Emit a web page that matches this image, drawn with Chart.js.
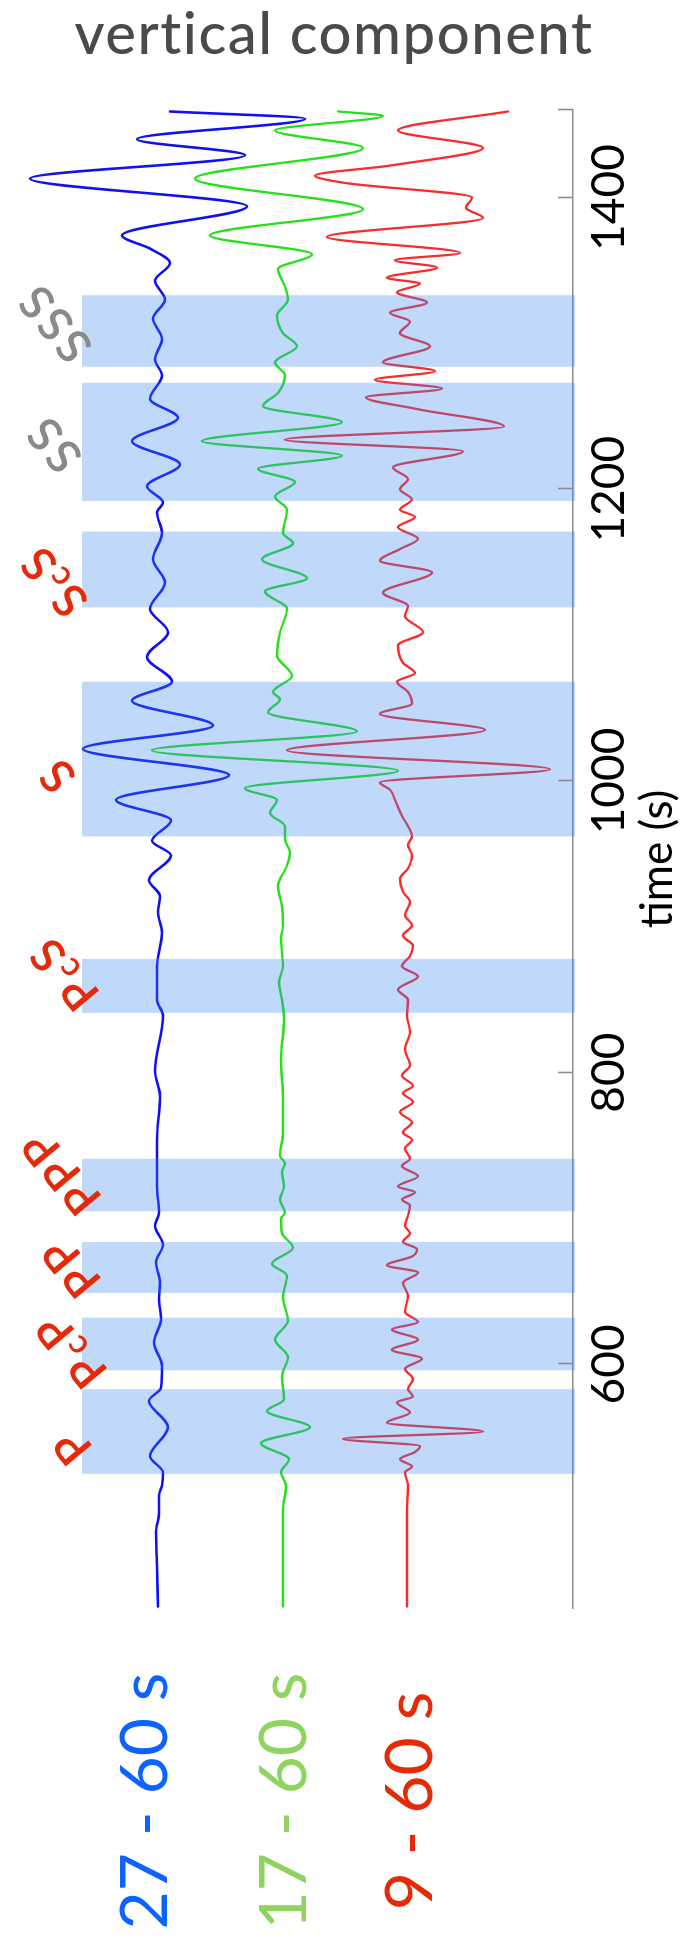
<!DOCTYPE html>
<html>
<head>
<meta charset="utf-8">
<script src="https://cdn.jsdelivr.net/npm/chart.js@4.4.1/dist/chart.umd.min.js"></script>
<style>
  html, body { margin: 0; padding: 0; background: #fff; }
  body { width: 682px; height: 1944px; position: relative; overflow: hidden; }
  #head { position: absolute; left: 0; top: 3px; width: 668px; text-align: center; }
  #ttl { font: 500 58px Lato, sans-serif; color: #4a4a4a; line-height: 1; white-space: nowrap; }
  /* the record section is laid out landscape and turned a quarter turn */
  #wrap { position: absolute; left: 0; top: 0; width: 1944px; height: 682px;
          transform-origin: 0 0; transform: translate(0, 1944px) rotate(-90deg); }
</style>
</head>
<body>
<div id="head"><span id="ttl">vertical component</span></div>
<div id="wrap"><canvas id="plot" width="1944" height="682"></canvas></div>
<script>
// ---- time axis ----
const TIME_MIN = 433;
const TIME_MAX = 1460;
const TICKS = [600, 800, 1000, 1200, 1400];
const AXIS_TITLE = 'time (s)';

// ---- filter bands ----
const BAND_NAMES = ['27 - 60 s', '17 - 60 s', '9 - 60 s'];

// ---- 27 - 60 s trace (time s, amplitude) ----
const blueTime = [434, 462, 485, 498, 510, 517, 526, 537, 557, 575, 584, 599, 615, 631, 645,
  656, 670, 682, 695, 704, 722, 754, 784, 801, 839, 850, 873, 896, 910, 921, 932, 949, 959,
  973, 987, 1004, 1022, 1038, 1055, 1068, 1085, 1102, 1118, 1136, 1152, 1170, 1184, 1191,
  1202, 1217, 1233, 1249, 1262, 1278, 1289, 1303, 1317, 1330, 1343, 1355, 1365, 1374, 1394,
  1413, 1429, 1440, 1454, 1459];
const blueAmp = [0, 1, 2, -1, -1, -4, -5, 8, -10, 9, -3, -4, 4, -3, -1,
  -2, 2, -5, 3, -1, 1, 1, -2, 3, -5, 1, 1, -4, 0, -2, 9, -13, 6,
  -13, 42, -71, 75, -55, 26, -14, 11, -10, 8, -7, 5, -4, 1, -5,
  11, -22, 26, -20, 8, -4, 3, -4, 5, -7, 3, -12, 8, 36, -89,
  128, -87, 21, -147, -12];

// ---- 17 - 60 s trace ----
const greenTime = [434, 470, 500, 517, 526, 535, 546, 557, 568, 576, 592, 605, 617, 630, 646,
  661, 669, 680, 690, 700, 704, 713, 722, 732, 738, 743, 759, 782, 809, 837, 850, 862, 873,
  882, 892, 901, 914, 928, 942, 951, 960, 969, 978, 987, 995, 1007, 1021, 1034, 1047, 1056,
  1061, 1072, 1086, 1102, 1118, 1130, 1139, 1152, 1163, 1170, 1186, 1195, 1205, 1214, 1223,
  1233, 1246, 1257, 1266, 1278, 1287, 1298, 1307, 1319, 1330, 1339, 1351, 1361, 1374, 1392,
  1413, 1434, 1446, 1456, 1459];
const greenAmp = [0, 0, 0, -3, 2, -6, 22, -27, 16, -1, 1, -5, 8, -5, 0,
  -4, 11, -10, 1, 2, -2, 3, -1, 1, -2, 3, 0, 0, 2, -1, 1, 4, 0,
  1, 2, 0, 1, 5, -4, -7, -2, -2, 13, 6, 38, -115, 131, -74, 15, 3,
  10, -9, 6, 3, -4, 18, -24, 21, -10, 0, -4, 8, -12, 25, -59,
  81, -59, 20, 5, -2, 8, -14, 0, 6, -5, -2, 5, -29, 73, -80,
  88, -80, 8, -100, -55];

// ---- 9 - 60 s trace ----
const redTime = [434, 470, 500, 517, 526, 530, 535, 540, 544, 549, 554, 560, 567, 574, 578,
  583, 590, 597, 604, 610, 617, 624, 629, 636, 647, 656, 663, 668, 674, 679, 684, 690, 695,
  702, 709, 713, 718, 722, 729, 736, 741, 748, 754, 759, 766, 773, 780, 786, 791, 798, 805,
  816, 828, 839, 850, 857, 866, 873, 880, 887, 894, 901, 908, 917, 924, 933, 940, 949, 956,
  962, 969, 976, 987, 994, 999, 1008, 1021, 1035, 1046, 1053, 1061, 1068, 1074, 1081, 1093,
  1102, 1113, 1120, 1129, 1143, 1151, 1159, 1166, 1174, 1181, 1186, 1193, 1200, 1207, 1215,
  1226, 1234, 1243, 1255, 1263, 1269, 1275, 1281, 1287, 1298, 1307, 1315, 1321, 1328, 1335,
  1341, 1345, 1352, 1357, 1362, 1373, 1386, 1393, 1400, 1410, 1415, 1422, 1434, 1446, 1459];
const redAmp = [0, 0, 0, -1, 2, -5, 7, -8, -13, 64, -76, 20, -3, 10, -6,
  -1, -6, 2, -15, 15, -11, 15, -11, 2, -1, 4, -11, 20, -5, -10, 4, -3, 2,
  -1, -3, 5, -8, 9, -11, 5, -3, 2, -5, 4, -5, 7, -6, 4, -6, 5, -3,
  2, -3, 0, -1, 9, -11, 5, -3, -6, 4, -5, 2, -3, 4, 7, -1, -5, -1,
  -5, -1, 5, 12, 17, 27, -143, 120, -78, 27, -5, -1, 10, -8, 4, 9,
  -16, 2, -1, 24, -25, 27, 7, -11, 9, -8, 7, -5, 7, -1, 14,
  -56, 122, -97, -10, 41, -35, 32, -28, 24, -23, 7, -3, 17, -20, 10,
  -13, 20, -30, 12, -53, 80, -76, -59, -65, 62, 92, 16, -76, 9, -101];

// ---- phase windows ----
const PHASES = ['P', 'PcP', 'PP', 'PPP', 'PcS', 'S', 'ScS', 'SS', 'SSS'];
const WINDOW_START = [525, 596, 649, 705, 841, 962, 1119, 1192, 1284];
const WINDOW_END = [583, 632, 684, 741, 878, 1068, 1171, 1273, 1333];
const PHASE_LABEL_AT = [543, 609, 666, 731, 867, 1003, 1136, 1230, 1313];

// fit the heading to its line
(function () {
  const t = document.getElementById('ttl');
  const w = t.getBoundingClientRect().width;
  t.style.letterSpacing = ((520 - w) / 18).toFixed(2) + 'px';
})();

Chart.defaults.font.family = 'Lato';

// layout of the landscape canvas
const TRACE_BASE = [158, 283, 407];          // distance of each trace from the top edge
const TRACE_COLOR = ['#1010f4', '#26e01c', '#fa2b2b'];
const TRACE_WIDTH = [2.6, 2.3, 2.3];
const NAME_COLOR = ['#0d63ff', '#8ed45e', '#e42a06'];
const NAME_BASELINE = [167, 306, 432];
const LABEL_LANE = [72, 71, 71, 61, 64, 57, 54, 54, 55];
const GRAY_PHASES = ['SS', 'SSS'];
const AXIS_Y = 573;

const traces = [
  [blueTime, blueAmp],
  [greenTime, greenAmp],
  [redTime, redAmp]
];

const datasets = traces.map(([t, a], i) => ({
  label: BAND_NAMES[i],
  data: t.map((x, k) => ({ x, y: (AXIS_Y - TRACE_BASE[i]) + a[k] })),
  showLine: true,
  pointRadius: 0,
  borderColor: TRACE_COLOR[i],
  borderWidth: TRACE_WIDTH[i],
  cubicInterpolationMode: 'monotone',
  borderJoinStyle: 'round',
  borderCapStyle: 'round'
}));

// translucent phase windows laid over the traces
const windowsPlugin = {
  id: 'phaseWindows',
  afterDatasetsDraw(chart) {
    const { ctx, scales: { x } } = chart;
    ctx.save();
    ctx.fillStyle = 'rgba(58,133,239,0.32)';
    PHASES.forEach((p, i) => {
      const a = x.getPixelForValue(WINDOW_START[i]);
      const b = x.getPixelForValue(WINDOW_END[i]);
      ctx.fillRect(a, 82, b - a, 575 - 82);
    });
    ctx.restore();
  }
};

// inward tick marks on the time axis
const tickPlugin = {
  id: 'innerTicks',
  afterDraw(chart) {
    const { ctx, scales: { x } } = chart;
    ctx.save();
    ctx.strokeStyle = '#8c8c8c';
    ctx.lineWidth = 1.6;
    TICKS.concat([TIME_MAX]).forEach(v => {
      const px = Math.round(x.getPixelForValue(v)) + 0.5;
      ctx.beginPath();
      ctx.moveTo(px, AXIS_Y);
      ctx.lineTo(px, AXIS_Y - 15);
      ctx.stroke();
    });
    ctx.restore();
  }
};

// slanted phase names and the filter-band names
const labelPlugin = {
  id: 'phaseNames',
  afterDraw(chart) {
    const { ctx, scales: { x } } = chart;
    const size = 47;
    const gap = 3;
    PHASES.forEach((name, i) => {
      const u = x.getPixelForValue(PHASE_LABEL_AT[i]);
      const v = LABEL_LANE[i];
      const glyphs = name.split('').map(ch => {
        const small = ch === ch.toLowerCase();
        const fs = small ? size * 0.72 : size;
        ctx.font = `600 ${fs}px Lato`;
        return { ch, fs, w: ctx.measureText(ch).width };
      });
      const total = glyphs.reduce((s, g) => s + g.w, 0) + gap * (glyphs.length - 1);
      ctx.save();
      ctx.translate(u, v);
      ctx.rotate(-40 * Math.PI / 180);
      ctx.fillStyle = GRAY_PHASES.includes(name) ? '#8a8a8a' : '#e42a0a';
      ctx.textBaseline = 'alphabetic';
      let cx = -total / 2;
      glyphs.forEach(g => {
        ctx.font = `600 ${g.fs}px Lato`;
        ctx.fillText(g.ch, cx, size * 0.36 + (g.fs < size ? size * 0.04 : 0));
        cx += g.w + gap;
      });
      ctx.restore();
    });

    ctx.save();
    ctx.font = '400 66px Lato';
    ctx.textAlign = 'center';
    ctx.textBaseline = 'alphabetic';
    BAND_NAMES.forEach((n, i) => {
      ctx.fillStyle = NAME_COLOR[i];
      ctx.fillText(n, 143, NAME_BASELINE[i]);
    });
    ctx.restore();
  }
};

new Chart(document.getElementById('plot'), {
  type: 'scatter',
  data: { datasets },
  options: {
    responsive: false,
    animation: false,
    events: [],
    layout: { padding: { left: 336, right: 110, top: 0, bottom: 0 } },
    plugins: { legend: { display: false }, tooltip: { enabled: false } },
    scales: {
      x: {
        type: 'linear',
        position: 'bottom',
        min: TIME_MIN,
        max: TIME_MAX,
        afterFit(scale) { scale.height = 682 - AXIS_Y; },
        afterBuildTicks(scale) { scale.ticks = TICKS.map(value => ({ value })); },
        grid: { drawOnChartArea: false, drawTicks: false },
        border: { display: true, color: '#8c8c8c', width: 1.6 },
        ticks: {
          padding: 9,
          color: '#000',
          maxRotation: 0,
          autoSkip: false,
          font: { size: 46, lineHeight: 1.2 },
          callback: v => String(v)
        },
        title: {
          display: true,
          text: AXIS_TITLE,
          color: '#000',
          font: { size: 44, lineHeight: 1 },
          padding: { top: 0, bottom: 2 }
        }
      },
      y: { type: 'linear', min: 0, max: AXIS_Y, display: false }
    }
  },
  plugins: [windowsPlugin, tickPlugin, labelPlugin]
});
</script>
</body>
</html>
